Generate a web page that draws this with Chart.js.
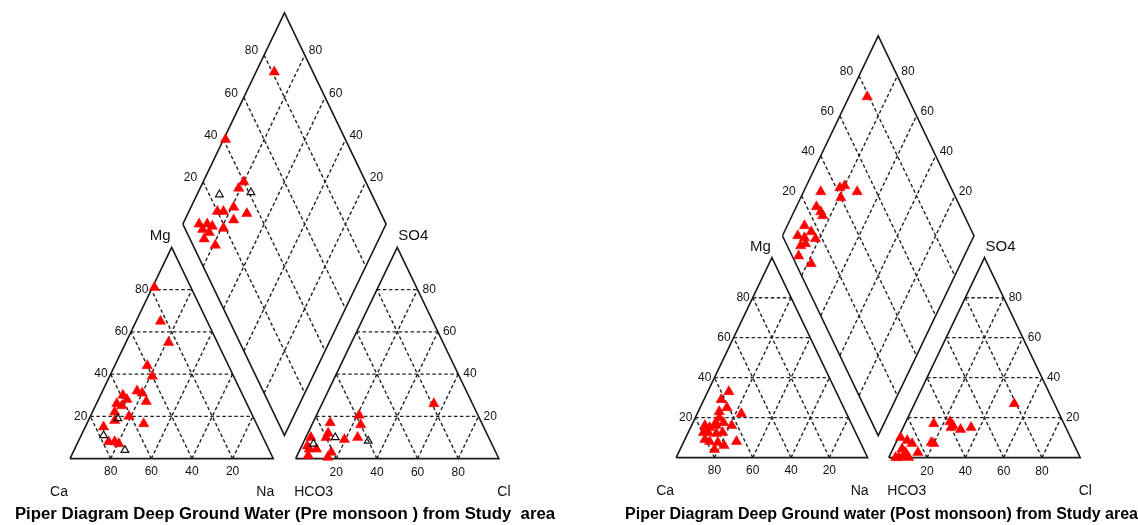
<!DOCTYPE html>
<html>
<head>
<meta charset="utf-8">
<script src="https://cdn.jsdelivr.net/npm/chart.js@4.4.0/dist/chart.umd.min.js"></script>
<style>
  html, body { margin: 0; padding: 0; background: #fff; }
  .wrap { display: flex; width: 1138px; height: 525px; }
  canvas { display: block; }
</style>
</head>
<body>
<div class="wrap">
  <canvas id="preChart" width="570" height="525"></canvas>
  <canvas id="postChart" width="568" height="525"></canvas>
</div>
<script>
const TICKS = [20, 40, 60, 80];
const GAP = 0.11;
const FONT = '"Liberation Sans", Arial, sans-serif';

// Pre monsoon, percent of meq/l
const preCation = [[81, 1], [65, 12], [55, 21], [44, 16], [39, 21], [32, 17], [31, 20], [27, 24], [28, 14], [26, 10],
  [22, 11], [20, 19], [18, 13], [16.5, 28], [15, 9], [8, 15], [8, 18], [7, 20.5], [25, 13], [30, 11]]; // [Mg, Na+K]
const preCationOpen = [[19, 14], [11, 11], [4, 25]];
const preAnion = [[26, 55], [20.5, 21], [16, 24], [10, 25.5], [9, 19.5], [17, 8.5], [12, 10], [10, 10], [10, 2.5], [4.5, 4.5],
  [4.5, 8], [1.4, 5.5], [3, 16], [0.6, 15.5], [6, 2.8]]; // [SO4, Cl]
const preAnionOpen = [[10, 14.5], [8.4, 31.5], [7, 5.3]];
const preDiamond = [[9, 81], [1, 41], [20, 40], [19, 36], [21, 29], [29, 34], [24, 26], [17, 23], [14, 20], [12, 12],
  [11, 8.5], [15, 14], [21, 19], [14, 7], [21, 11], [15, 11], [8, 8]]; // [Na+K, Cl+SO4]
const preDiamondOpen = [[11, 25], [26, 41]];

// Post monsoon
const postCation = [[33, 11], [29, 9], [25, 14], [22, 23], [20, 12.5], [17.5, 12], [17.5, 16], [16, 13], [16, 21], [16, 7],
  [12.5, 8], [12.5, 10.5], [12, 15], [12.5, 18], [9, 10.5], [8, 13.5], [7.5, 18], [8, 27.5], [6, 22], [4, 18], [15, 10], [23, 11]];
const postAnion = [[27, 52], [17, 15], [18, 23], [16, 25.5], [15, 25], [14, 30.5], [15, 35.5], [7.5, 18.5], [7, 20], [2.5, 14],
  [10, 1.2], [8.5, 5.4], [7, 8.7], [4.3, 4.8], [2.6, 7.4], [1, 7.4], [0, 5.3], [0, 10.4], [0, 3.6]];
const postDiamond = [[9.5, 79], [9, 31], [18, 42], [20, 45], [21, 40], [28, 50], [10.5, 25], [14, 26], [16, 26], [9, 14],
  [14, 16], [8, 8], [12, 11], [18, 16.5], [12, 7], [14, 10], [13.5, 3.4], [22, 8]];

const preTitle = 'Piper Diagram Deep Ground Water (Pre monsoon ) from Study  area';
const postTitle = 'Piper Diagram Deep Ground water (Post monsoon) from Study area';

function cationXY(mg, na) { return { x: na / 100 + mg / 200, y: mg / 100 }; }
function anionXY(so4, cl) { return { x: 1 + GAP + cl / 100 + so4 / 200, y: so4 / 100 }; }
function diamondXY(na, clso4) {
    const a = na / 100, b = clso4 / 100;
    return { x: (1 + GAP + a + b) / 2, y: 1 + GAP + b - a };
}

function outline(points) {
    return {
        data: points.concat([points[0]]),
        showLine: true, borderColor: '#1a1a1a', borderWidth: 1.6,
        pointRadius: 0, fill: false, order: 2
    };
}

function segment(p, q) {
    return {
        data: [p, q],
        showLine: true, borderColor: '#222', borderWidth: 1.4, borderDash: [3.5, 2.5],
        pointRadius: 0, fill: false, order: 3
    };
}

function markers(points, open) {
    return {
        data: points,
        pointStyle: 'triangle',
        pointRadius: open ? 4.5 : 6,
        backgroundColor: open ? 'rgba(0,0,0,0)' : '#ff0000',
        borderColor: open ? '#111' : '#ff0000',
        borderWidth: open ? 1.2 : 0.5,
        order: open ? 0 : 1
    };
}

function frameDatasets() {
    const sets = [];
    sets.push(outline([cationXY(0, 0), cationXY(0, 100), cationXY(100, 0)]));
    sets.push(outline([anionXY(0, 0), anionXY(0, 100), anionXY(100, 0)]));
    sets.push(outline([diamondXY(0, 0), diamondXY(100, 0), diamondXY(100, 100), diamondXY(0, 100)]));

    TICKS.forEach(t => {
        const r = 100 - t;
        // cation triangle
        sets.push(segment(cationXY(t, 0), cationXY(t, r)));
        sets.push(segment(cationXY(0, r), cationXY(r, 0)));
        sets.push(segment(cationXY(0, t), cationXY(r, t)));
        // anion triangle
        sets.push(segment(anionXY(t, 0), anionXY(t, r)));
        sets.push(segment(anionXY(0, r), anionXY(r, 0)));
        sets.push(segment(anionXY(0, t), anionXY(r, t)));
        // diamond
        sets.push(segment(diamondXY(0, t), diamondXY(100, t)));
        sets.push(segment(diamondXY(t, 0), diamondXY(t, 100)));
    });
    return sets;
}

function buildLabels() {
    const labels = [];
    const tickFont = '12px ' + FONT;
    TICKS.forEach(t => {
        labels.push({ text: String(t), pos: cationXY(t, 0), dx: -3, dy: 0, align: 'right', font: tickFont });
        labels.push({ text: String(t), pos: cationXY(0, 100 - t), dx: 0, dy: 13, align: 'center', font: tickFont });
        labels.push({ text: String(t), pos: anionXY(0, t), dx: 0, dy: 14, align: 'center', font: tickFont });
        labels.push({ text: String(t), pos: anionXY(t, 100 - t), dx: 5, dy: 0, align: 'left', font: tickFont });
        labels.push({ text: String(t), pos: diamondXY(0, t), dx: -6, dy: -4, align: 'right', font: tickFont });
        labels.push({ text: String(t), pos: diamondXY(100 - t, 100), dx: 4, dy: -4, align: 'left', font: tickFont });
    });
    const nameFont = '15px ' + FONT;
    const endFont = '14px ' + FONT;
    labels.push({ text: 'Mg', pos: cationXY(100, 0), dx: -1, dy: -11, align: 'right', font: nameFont });
    labels.push({ text: 'SO4', pos: anionXY(100, 0), dx: 1, dy: -11, align: 'left', font: nameFont });
    labels.push({ text: 'Ca', pos: cationXY(0, 0), dx: -11, dy: 34, align: 'center', font: endFont });
    labels.push({ text: 'Na', pos: cationXY(0, 100), dx: -8, dy: 34, align: 'center', font: endFont });
    labels.push({ text: 'HCO3', pos: anionXY(0, 0), dx: 18, dy: 34, align: 'center', font: endFont });
    labels.push({ text: 'Cl', pos: anionXY(0, 100), dx: 5, dy: 34, align: 'center', font: endFont });
    return labels;
}

const textPlugin = {
    id: 'piperText',
    afterDatasetsDraw(chart) {
        const ctx = chart.ctx;
        const xs = chart.scales.x, ys = chart.scales.y;
        ctx.save();
        ctx.fillStyle = '#111';
        ctx.textBaseline = 'middle';
        buildLabels().forEach(l => {
            ctx.font = l.font;
            ctx.textAlign = l.align;
            ctx.fillText(l.text, xs.getPixelForValue(l.pos.x) + l.dx, ys.getPixelForValue(l.pos.y) + l.dy);
        });
        ctx.restore();
    }
};

function makeChart(id, panel) {
    const datasets = [
        markers(panel.cationOpen.map(p => cationXY(p[0], p[1])), true),
        markers(panel.anionOpen.map(p => anionXY(p[0], p[1])), true),
        markers(panel.diamondOpen.map(p => diamondXY(p[0], p[1])), true),
        markers(panel.cation.map(p => cationXY(p[0], p[1])), false),
        markers(panel.anion.map(p => anionXY(p[0], p[1])), false),
        markers(panel.diamond.map(p => diamondXY(p[0], p[1])), false)
    ].concat(frameDatasets());

    return new Chart(document.getElementById(id), {
        type: 'scatter',
        data: { datasets: datasets },
        options: {
            responsive: false,
            animation: false,
            events: [],
            layout: { padding: 0 },
            scales: {
                x: { type: 'linear', display: false, min: panel.x[0], max: panel.x[1] },
                y: { type: 'linear', display: false, min: panel.y[0], max: panel.y[1] }
            },
            plugins: {
                legend: { display: false },
                tooltip: { enabled: false },
                title: {
                    display: true,
                    position: 'bottom',
                    text: panel.title,
                    align: panel.align,
                    color: '#000',
                    font: { family: FONT, size: panel.titleSize, weight: 'bold', lineHeight: '20.8px' },
                    padding: 0
                }
            }
        },
        plugins: [textPlugin]
    });
}

makeChart('preChart', {
    title: preTitle, align: 'center', titleSize: 16.8,
    x: [-0.3125, 2.4279], y: [-0.2159, 2.1402],
    cation: preCation, cationOpen: preCationOpen,
    anion: preAnion, anionOpen: preAnionOpen,
    diamond: preDiamond, diamondOpen: preDiamondOpen
});

makeChart('postChart', {
    title: postTitle, align: 'end', titleSize: 16,
    x: [-0.5204, 2.3776], y: [-0.2331, 2.2568],
    cation: postCation, cationOpen: [],
    anion: postAnion, anionOpen: [],
    diamond: postDiamond, diamondOpen: []
});
</script>
</body>
</html>
